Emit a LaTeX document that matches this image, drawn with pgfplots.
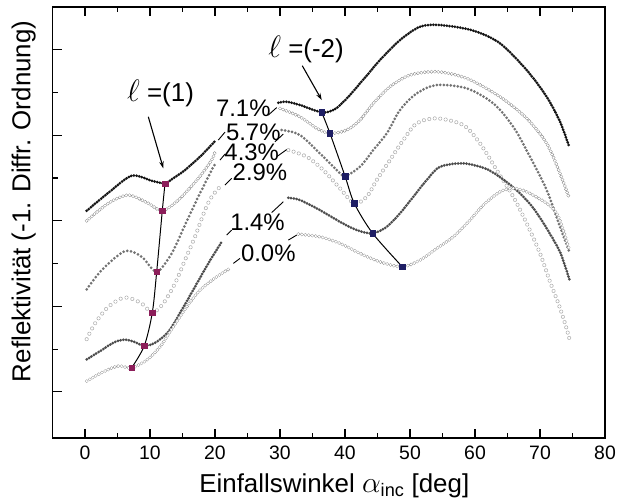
\documentclass[border=0pt]{standalone}
\usepackage{amsmath}
\usepackage{graphicx}
\usepackage{fontspec}
\setmainfont{Liberation Sans}
\usepackage{pgfplots}
\pgfplotsset{compat=1.18}
\usetikzlibrary{arrows.meta}

\definecolor{ordA}{RGB}{140,30,90}
\definecolor{ordB}{RGB}{30,30,100}
\newcommand\pctfont{\fontsize{24}{28}\selectfont}
\newcommand\bigell{\scalebox{1.25}{$\ell$}}

% measured reflectivity curves, drawn as dotted chains along the data
% filled dots: {colour}{diameter}{spacing}
% open dots:   {colour}{outer diameter}{inner diameter}{spacing}
\tikzset{
  filled dots/.style n args={3}{draw=#1, line width=#2, line cap=round,
      dash pattern=on 0pt off #3},
  open dots/.style n args={4}{draw=#1, line width=#2, line cap=round,
      dash pattern=on 0pt off #4,
      postaction={draw=white, line width=#3, line cap=round, dash pattern=on 0pt off #4}},
  pct/.style={font=\pctfont, inner sep=0pt},
}

\begin{document}
\begin{tikzpicture}
\begin{axis}[
  name=main,
  scale only axis, width=552.5bp, height=431bp,
  xmin=-5, xmax=80, ymin=-0.04, ymax=5.0,
  xtick={0,10,...,80}, minor xtick={5,15,...,75},
  ytick={0.5,1.5,...,4.5}, minor ytick={1,2,3,4},
  yticklabels={},
  ytick pos=left,
  tick align=inside,
  major tick length=9bp, minor tick length=5bp,
  axis line style={line width=1.2bp},
  every tick/.style={black, line width=1.1bp},
  /pgf/number format/assume math mode=true,
  xticklabel style={font=\fontsize{19.5}{22}\selectfont, inner sep=0pt, yshift=-8bp},
  xlabel={Einfallswinkel \scalebox{1.2}{$\alpha$}$_{\text{inc}}$ [deg]},
  ylabel={Reflektivität (-1. Diffr. Ordnung)},
  xlabel style={at={(axis description cs:0.51,-0.1253)}, anchor=base, inner sep=0pt,
    font=\fontsize{26}{30}\selectfont},
  ylabel style={at={(axis description cs:-0.0402,0.549)}, anchor=base, inner sep=0pt,
    font=\fontsize{26}{30}\selectfont},
]

% 7.1 %
\addplot[smooth, filled dots={black!92}{3bp}{2.7bp}] coordinates {
 (0.26,2.617) (3.54,2.824) (7.18,3.026) (10.26,2.968) (12.31,2.937) (13.34,2.985)
 (15.38,3.093) (17.95,3.268) (20.15,3.444)};
\addplot[smooth, filled dots={black!92}{3bp}{2.7bp}] coordinates {
 (29.74,3.880) (31.03,3.892) (33.08,3.853) (36.42,3.768) (38.2,3.795) (39.23,3.853)
 (40.77,3.970) (42.31,4.107) (43.85,4.243) (45.38,4.380) (48.46,4.613) (51.54,4.769)
 (54.62,4.789) (59.69,4.725) (63.85,4.575) (67.95,4.262) (71.03,3.950) (73.08,3.658)
 (74.51,3.362)};

% 5.7 %
\addplot[smooth, open dots={black!50}{3.6bp}{2.5bp}{3.4bp}] coordinates {
 (0.26,2.500) (3.58,2.704) (6.66,2.800) (9.74,2.704) (11.89,2.617) (14.35,2.742)
 (17.43,2.996) (19.49,3.210) (20.0,3.307)};
\addplot[smooth, open dots={black!50}{3.6bp}{2.5bp}{3.4bp}] coordinates {
 (30.0,3.815) (33.08,3.716) (35.65,3.581) (37.69,3.522) (40.26,3.561) (42.31,3.678)
 (44.35,3.873) (46.92,4.067) (50.0,4.204) (54.11,4.243) (58.72,4.166) (63.85,3.950)
 (67.95,3.698) (71.03,3.405) (73.08,3.054) (74.51,2.762)};

% 4.3 %
\addplot[smooth, filled dots={black!55}{3bp}{3.8bp}] coordinates {
 (0.26,1.698) (2.57,1.923) (6.15,2.146) (8.72,2.079) (11.03,1.904) (13.34,2.119)
 (15.38,2.450) (17.43,2.781) (19.49,3.093) (20.0,3.16)};
\addplot[smooth, filled dots={black!55}{3bp}{3.5bp}] coordinates {
 (30.26,3.561) (33.08,3.502) (36.66,3.249) (38.72,3.093) (40.0,3.023) (42.31,3.132)
 (44.35,3.327) (46.42,3.522) (48.46,3.795) (51.03,3.990) (54.11,4.087) (58.72,4.049)
 (62.82,3.873) (65.89,3.599) (68.46,3.249) (71.03,2.859) (73.08,2.430) (74.51,2.137)};

% 2.9 %
\addplot[smooth, open dots={black!30}{4bp}{2.9bp}{6bp}] coordinates {
 (0.26,1.116) (1.54,1.300) (3.58,1.494) (6.15,1.604) (8.72,1.534) (10.35,1.424)
 (12.05,1.534) (13.85,1.768) (15.38,2.040) (16.92,2.313) (18.46,2.625) (19.49,2.781)
 (20.77,2.898)};
\addplot[smooth, open dots={black!30}{4bp}{2.9bp}{5.5bp}] coordinates {
 (31.28,3.327) (34.11,3.249) (36.66,3.093) (39.23,2.879) (41.43,2.704) (43.34,2.781)
 (44.88,2.976) (46.92,3.210) (48.97,3.444) (51.03,3.639) (54.11,3.698) (58.2,3.619)
 (60.77,3.405) (63.34,3.093) (65.89,2.781) (67.95,2.470) (70.0,2.119) (71.54,1.787)
 (72.82,1.534) (73.85,1.300) (74.51,1.125)};

% 1.4 %
\addplot[smooth, filled dots={black!70}{3bp}{2.8bp}] coordinates {
 (0.26,0.879) (2.57,0.988) (4.5,1.08) (6.2,1.11) (7.7,1.08) (9.12,1.038) (10.77,1.073)
 (12.82,1.202) (14.88,1.456) (16.92,1.728) (18.97,2.002) (21.03,2.254)};
\addplot[smooth, filled dots={black!70}{3bp}{2.8bp}] coordinates {
 (31.28,2.769) (33.08,2.742) (36.15,2.625) (39.23,2.488) (41.8,2.391) (44.26,2.353)
 (46.42,2.430) (48.46,2.587) (50.51,2.781) (52.57,2.976) (54.62,3.132) (58.2,3.171)
 (61.8,3.105) (64.88,2.953) (66.92,2.820) (68.97,2.649) (71.03,2.411) (73.08,2.134)
 (74.51,1.815)};

% 0.0 %
\addplot[smooth, open dots={black!45}{3.6bp}{2.5bp}{3.5bp}] coordinates {
 (0.26,0.625) (2.82,0.734) (5.12,0.801) (7.18,0.781) (9.49,0.871) (11.54,1.026)
 (13.58,1.260) (15.65,1.494) (17.69,1.689) (20.26,1.845) (22.31,1.943)};
\addplot[smooth, open dots={black!45}{3.6bp}{2.5bp}{3.5bp}] coordinates {
 (32.82,2.344) (36.15,2.313) (39.23,2.236) (42.31,2.119) (45.38,2.020) (48.82,1.962)
 (51.54,2.040) (54.11,2.177) (56.66,2.313) (59.23,2.508) (61.28,2.684) (63.85,2.839)
 (65.89,2.879) (67.95,2.839) (71.03,2.704) (72.57,2.587) (73.58,2.391) (74.51,2.157)};

% diffraction order l = (1)
\addplot[smooth, black, line width=1bp] coordinates {
 (12.31,2.937) (11.89,2.617) (11.03,1.904) (10.35,1.424) (9.12,1.038) (7.18,0.781)};
\addplot[only marks, mark=square*, mark size=2.7bp, color=ordA] coordinates {
 (12.31,2.937) (11.89,2.617) (11.03,1.904) (10.35,1.424) (9.12,1.038) (7.18,0.781)};

% diffraction order l = (-2)
\addplot[smooth, black, line width=1bp] coordinates {
 (36.42,3.768) (37.69,3.522) (40.0,3.023) (41.43,2.704) (44.26,2.353) (48.82,1.962)};
\addplot[only marks, mark=square*, mark size=2.7bp, color=ordB] coordinates {
 (36.42,3.768) (37.69,3.522) (40.0,3.023) (41.43,2.704) (44.26,2.353) (48.82,1.962)};

% order labels and arrows
\draw[line width=1.1bp, -{Stealth[length=7bp, width=4.5bp]}] (axis cs:9.74,3.716) -- (axis cs:12.05,3.113);
\draw[line width=1.1bp, -{Stealth[length=7bp, width=4.5bp]}] (axis cs:33.43,4.313) -- (axis cs:36.42,3.912);
\node[font=\fontsize{26}{30}\selectfont] at (axis cs:11.62,3.994) {\bigell\ =(1)};
\node[font=\fontsize{26}{30}\selectfont] at (axis cs:34.0,4.506) {\bigell\ =(-2)};

% concentration labels with leader lines
\node[pct] at (axis cs:24.35,3.815) {7.1\%};
\node[pct] at (axis cs:25.89,3.537) {5.7\%};
\node[pct] at (axis cs:25.65,3.298) {4.3\%};
\node[pct] at (axis cs:26.92,3.064) {2.9\%};
\node[pct] at (axis cs:26.54,2.488) {1.4\%};
\node[pct] at (axis cs:28.2,2.119) {0.0\%};
\begin{scope}[line width=0.9bp]
\draw (axis cs:28.2,3.736) -- (axis cs:29.49,3.824);
\draw (axis cs:20.51,3.444) -- (axis cs:21.54,3.537);
\draw (axis cs:29.23,3.424) -- (axis cs:30.51,3.514);
\draw (axis cs:20.77,3.210) -- (axis cs:21.54,3.280);
\draw (axis cs:29.49,3.249) -- (axis cs:31.03,3.333);
\draw (axis cs:21.54,2.918) -- (axis cs:22.57,2.996);
\draw (axis cs:21.8,2.333) -- (axis cs:22.57,2.391);
\draw (axis cs:28.72,2.596) -- (axis cs:30.51,2.722);
\draw (axis cs:22.82,2.002) -- (axis cs:23.85,2.060);
\draw (axis cs:31.28,2.274) -- (axis cs:32.57,2.333);
\end{scope}
\end{axis}
\pgfresetboundingbox
\path[use as bounding box] ([xshift=-52.5bp,yshift=-64bp]main.south west)
  rectangle ([xshift=13bp,yshift=7bp]main.north east);
\end{tikzpicture}
\end{document}
